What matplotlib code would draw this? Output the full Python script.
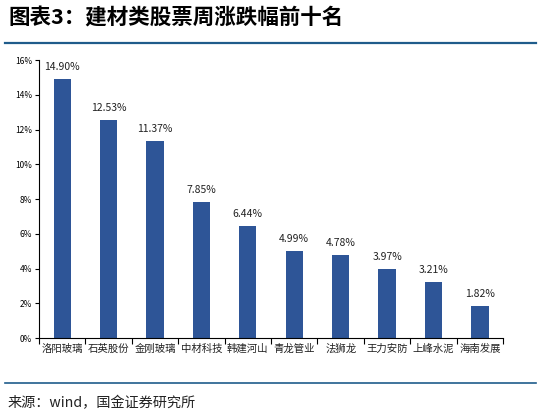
import matplotlib
matplotlib.use("Agg")
import matplotlib.pyplot as plt
from matplotlib.lines import Line2D
from matplotlib.ticker import FuncFormatter, MultipleLocator

plt.rcParams['font.family'] = ['Noto Sans CJK SC', 'DejaVu Sans']

categories = ['洛阳玻璃', '石英股份', '金刚玻璃', '中材科技', '韩建河山', '青龙管业', '法狮龙', '王力安防', '上峰水泥', '海南发展']
values = [14.90, 12.53, 11.37, 7.85, 6.44, 4.99, 4.78, 3.97, 3.21, 1.82]
labels = ['14.90%', '12.53%', '11.37%', '7.85%', '6.44%', '4.99%', '4.78%', '3.97%', '3.21%', '1.82%']

title = '图表3：建材类股票周涨跌幅前十名'
source = '来源：wind，国金证券研究所'

bar_color = '#2E5597'
line_color = '#1F5C8B'

fig = plt.figure(figsize=(5.41, 4.15), dpi=100)
ax = fig.add_axes([0.072, 0.1855, 0.858, 0.6695])

x = list(range(len(categories)))
bars = ax.bar(x, values, width=0.37, color=bar_color)
for xi, v, lab in zip(x, values, labels):
    ax.annotate(lab, (xi, v), xytext=(0, 5), textcoords='offset points',
                ha='center', va='bottom', fontsize=7.5, color='#222222')

ax.set_xlim(-0.5, len(categories) - 0.5)
ax.set_ylim(0, 16)
ax.yaxis.set_major_locator(MultipleLocator(2))
ax.yaxis.set_major_formatter(FuncFormatter(lambda v, p: f'{v:.0f}%'))
ax.set_xticks(x)
ax.set_xticklabels(categories, fontsize=7.5, color='#222222')
ax.tick_params(axis='x', length=0, pad=4)
ax.set_xticks([i - 0.5 for i in range(len(categories) + 1)], minor=True)
ax.tick_params(axis='x', which='minor', length=4, width=0.8, direction='out')
ax.tick_params(axis='y', labelsize=6, length=3, width=0.8, direction='out', pad=2)
for s in ['top', 'right']:
    ax.spines[s].set_visible(False)
ax.spines['left'].set_linewidth(0.8)
ax.spines['bottom'].set_linewidth(0.8)

fig.text(0.015, 1 - 18/415, title, fontsize=15.5, fontweight='bold', fontstyle='italic', va='center', ha='left')
fig.add_artist(Line2D([0.009, 0.99], [1 - 43/415, 1 - 43/415], color=line_color, lw=1.6, transform=fig.transFigure))
fig.add_artist(Line2D([0.009, 0.99], [1 - 383/415, 1 - 383/415], color=line_color, lw=1.2, transform=fig.transFigure))
fig.text(0.013, 1 - 403/415, source, fontsize=10.2, va='center', ha='left', color='#222222')

fig.savefig('out.png', dpi=100)
